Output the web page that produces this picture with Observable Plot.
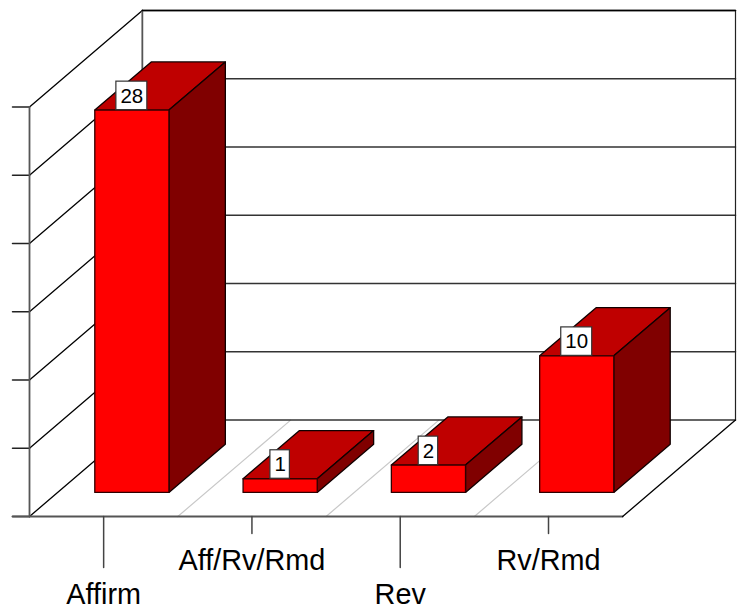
<!DOCTYPE html>
<html><head><meta charset="utf-8">
<style>html,body{margin:0;padding:0;background:#fff;overflow:hidden}svg{display:block}</style>
<script src="https://cdn.jsdelivr.net/npm/d3@7"></script>
<script src="https://cdn.jsdelivr.net/npm/@observablehq/plot@0.6"></script>
</head><body>
<script>
const categories = ["Affirm", "Aff/Rv/Rmd", "Rev", "Rv/Rmd"];
const values = [28, 1, 2, 10];
const valueTicks = [0, 5, 10, 15, 20, 25, 30];
const longTick = [true, false, true, false];

// oblique projection: one full depth step, expressed in data units
const depthX = 113 / 148.5, depthY = 96.5 / 13.667;
const n = categories.length, vMax = 30;
const P = (c, z, v) => ({x: c + z * depthX, y: v + z * depthY});
const pxX = p => p / 148.5, pxY = p => p / 13.667;
const poly = (id, pts) => [...pts, pts[0]].map(p => ({id, ...p}));
const seg = (id, a, b) => [{id, ...a}, {id, ...b}];

const bars = categories.map((name, i) => ({name, i, v: values[i], a: i + .25, b: i + .75, f: .25, k: .75}));
const front = bars.flatMap(d => poly(d.i, [P(d.a, d.f, 0), P(d.b, d.f, 0), P(d.b, d.f, d.v), P(d.a, d.f, d.v)]));
const top_ = bars.flatMap(d => poly(d.i, [P(d.a, d.f, d.v), P(d.b, d.f, d.v), P(d.b, d.k, d.v), P(d.a, d.k, d.v)]));
const side = bars.flatMap(d => poly(d.i, [P(d.b, d.f, 0), P(d.b, d.k, 0), P(d.b, d.k, d.v), P(d.b, d.f, d.v)]));

const floorSeps = d3.range(1, n).flatMap(c => seg(c, P(c, 0, 0), P(c, 1, 0)));
const backGrid = valueTicks.flatMap(v => seg(v, P(0, 1, v), P(n, 1, v)));
const leftGrid = valueTicks.flatMap(v => seg(v, P(0, 0, v), P(0, 1, v)));
const greyFrame = [
  ...seg("lf", P(0, 0, 0), P(0, 0, vMax)),
  ...seg("lb", P(0, 1, 0), P(0, 1, vMax)),
  ...seg("fr", {x: -pxX(17), y: 0}, P(n, 0, 0))
];
const blackFrame = [
  ...seg("t", P(0, 1, vMax), P(n, 1, vMax)),
  ...seg("r", P(n, 0, 0), P(n, 1, 0))
];
const rightEdge = seg("re", P(n, 1, 0), P(n, 1, vMax));
const yTicks = valueTicks.flatMap(v => seg(v, {x: -pxX(17), y: v}, {x: 0, y: v}));
const xTicks = categories.flatMap((c, i) => seg(i, P(i + .5, 0, 0), {x: i + .5, y: -pxY(longTick[i] ? 51 : 17)}));

const labelRows = bars.map(d => {
  const s = String(d.v), w = s.length * 11.5 + 8, c = P((d.a + d.b) / 2, d.f, d.v);
  return {s, cx: c.x, y1: c.y, y2: c.y + pxY(28.5), x1: c.x - pxX(w / 2), x2: c.x + pxX(w / 2), ym: c.y + pxY(14)};
});
const catRows = categories.map((c, i) => ({c, x: i + .5, y: -pxY(longTick[i] ? 88 : 54)}));

const chart = Plot.plot({
  width: 739, height: 606,
  margin: 0,
  style: {background: "#fff", fontFamily: "'Liberation Sans', Arial, sans-serif"},
  x: {domain: [0, n + depthX], range: [29, 735], axis: null},
  y: {domain: [0, vMax + depthY], range: [516, 10], axis: null},
  marks: [
    Plot.line(floorSeps, {x: "x", y: "y", z: "id", stroke: "#c8c8c8", strokeWidth: 1.2}),
    Plot.line(backGrid, {x: "x", y: "y", z: "id", stroke: "#333", strokeWidth: 1.5}),
    Plot.line(leftGrid, {x: "x", y: "y", z: "id", stroke: "#000", strokeWidth: 1.3}),
    Plot.line(yTicks, {x: "x", y: "y", z: "id", stroke: "#222", strokeWidth: 1.5}),
    Plot.line(greyFrame, {x: "x", y: "y", z: "id", stroke: "#555", strokeWidth: 1.8}),
    Plot.line(rightEdge, {x: "x", y: "y", z: "id", stroke: "#222", strokeWidth: 1.2}),
    Plot.line(blackFrame, {x: "x", y: "y", z: "id", stroke: "#000", strokeWidth: 1.3}),
    Plot.line(xTicks, {x: "x", y: "y", z: "id", stroke: "#444", strokeWidth: 1.5}),
    Plot.line(top_, {x: "x", y: "y", z: "id", fill: "#bf0000", stroke: "#100000", strokeWidth: 1.3}),
    Plot.line(side, {x: "x", y: "y", z: "id", fill: "#800000", stroke: "#100000", strokeWidth: 1.3}),
    Plot.line(front, {x: "x", y: "y", z: "id", fill: "#ff0000", stroke: "#300000", strokeWidth: 1.3}),
    Plot.rect(labelRows, {x1: "x1", x2: "x2", y1: "y1", y2: "y2", fill: "#fff", stroke: "#333", strokeWidth: 1.2}),
    Plot.text(labelRows, {x: "cx", y: "ym", text: "s", fill: "#000", fontSize: 20.5, textAnchor: "middle"}),
    Plot.text(catRows, {x: "x", y: "y", text: "c", fill: "#000", fontSize: 28.8, textAnchor: "middle", lineAnchor: "bottom"})
  ]
});
document.body.appendChild(chart);
</script>
</body></html>
